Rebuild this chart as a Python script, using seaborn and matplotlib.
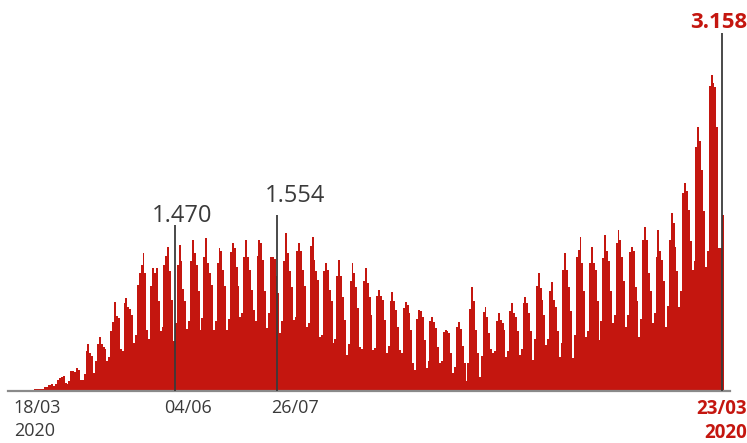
import numpy as np
import pandas as pd
import seaborn as sns
import matplotlib.pyplot as plt

# daily deaths, one row per week (Wed..Tue)
deaths_by_week = [
    [1, 3, 4, 7, 6, 9, 12],
    [13, 20, 16, 22, 21, 25, 42],
    [40, 58, 60, 73, 54, 67, 110],
    [135, 141, 150, 80, 70, 105, 200],
    [204, 188, 230, 206, 115, 113, 170],
    [400, 470, 380, 346, 180, 300, 470],
    [540, 470, 440, 420, 300, 340, 600],
    [690, 890, 750, 730, 420, 400, 880],
    [930, 840, 820, 760, 480, 560, 1060],
    [1180, 1260, 1380, 1180, 610, 520, 1050],
    [1230, 1180, 1230, 900, 600, 640, 1260],
    [1350, 1440, 1200, 910, 500, 680, 1260],
    [1460, 1300, 1020, 900, 620, 700, 1300],
    [1510, 1380, 1260, 1000, 610, 730, 1340],
    [1530, 1280, 1180, 1060, 610, 700, 1280],
    [1430, 1400, 1210, 1050, 610, 720, 1390],
    [1480, 1430, 1240, 1050, 740, 780, 1340],
    [1510, 1340, 1210, 1010, 810, 700, 1350],
    [1510, 1480, 1310, 1000, 630, 780, 1340],
    [1340, 1320, 1150, 980, 580, 700, 1300],
    [1580, 1380, 1200, 1040, 710, 740, 1400],
    [1480, 1400, 1210, 1050, 640, 680, 1450],
    [1540, 1310, 1200, 1110, 540, 560, 1200],
    [1280, 1210, 1010, 900, 480, 520, 1150],
    [1310, 1150, 940, 710, 360, 470, 1100],
    [1280, 1180, 1040, 830, 440, 420, 1100],
    [1230, 1080, 940, 760, 410, 430, 950],
    [1010, 950, 910, 710, 380, 450, 900],
    [990, 900, 810, 640, 410, 380, 830],
    [890, 860, 780, 610, 280, 210, 720],
    [810, 800, 740, 510, 230, 300, 700],
    [740, 690, 630, 440, 280, 300, 590],
    [610, 600, 580, 380, 180, 240, 640],
    [690, 620, 450, 280, 100, 280, 820],
    [1040, 900, 610, 380, 140, 350, 790],
    [840, 740, 580, 420, 380, 400, 700],
    [780, 710, 680, 610, 340, 400, 800],
    [880, 780, 740, 600, 360, 420, 880],
    [940, 880, 780, 600, 310, 520, 1050],
    [1180, 1030, 910, 760, 460, 520, 1000],
    [1090, 910, 840, 600, 340, 480, 1210],
    [1380, 1210, 1040, 800, 330, 560, 1340],
    [1410, 1540, 1280, 1000, 540, 600, 1280],
    [1440, 1280, 1210, 900, 510, 700, 1330],
    [1560, 1400, 1300, 1000, 680, 760, 1480],
    [1610, 1510, 1340, 1100, 640, 760, 1390],
    [1440, 1400, 1040, 900, 540, 720, 1510],
    [1640, 1510, 1180, 1000, 680, 780, 1340],
    [1610, 1400, 1310, 1100, 640, 850, 1510],
    [1780, 1680, 1440, 1200, 840, 1000, 1980],
    [2080, 2000, 1810, 1500, 1210, 1300, 2440],
    [2640, 2500, 2210, 1800, 1240, 1400, 3050],
    [3160, 3080, 3040, 2640, 1430, 1430, 1760],
]
deaths = [v for week in deaths_by_week for v in week]
days = list(range(len(deaths)))

# highlighted days: line position, line height, label position, label text
mark_days = [81.5, 135.5]
mark_heights = [1660, 1760]
mark_text_x = [85.3, 145.0]
mark_text_y = [1690, 1890]
mark_labels = ['1.470', '1.554']
last_label = '3.158'

tick_pos = [-3.2, 76, 132]
tick_labels = ['18/03\n2020', '04/06', '26/07']
end_label = '23/03\n2020'

RED = '#c4160f'
GREY = '#3a3a3a'

sns.set_style('white')
plt.rcParams['font.family'] = ['Open Sans', 'DejaVu Sans']

df = pd.DataFrame({'day': days, 'deaths': deaths})

fig = plt.figure(figsize=(7.47, 4.43), dpi=100)
ax = fig.add_axes([8 / 747, 52 / 443, 722 / 747, 358 / 443])

sns.histplot(data=df, x='day', weights='deaths', discrete=True, color=RED,
             alpha=1, linewidth=0, ax=ax)

ax.set_xlim(-6.3, 373.7)
ax.set_ylim(0, 3580)
sns.despine(ax=ax, left=True)
ax.spines['bottom'].set_color('#8a8a8a')
ax.spines['bottom'].set_linewidth(1.6)
ax.set_xticks([])
ax.set_yticks([])
ax.set_xlabel('')
ax.set_ylabel('')

# marker lines and values
for xp, h in zip(mark_days, mark_heights):
    ax.vlines(xp, 0, h, color=GREY, linewidth=1.3, zorder=3)
for tx, ty, lab in zip(mark_text_x, mark_text_y, mark_labels):
    ax.text(tx, ty, lab, ha='center', va='baseline', fontsize=17, color=GREY)
ax.vlines(369.5, 0, 3580, color=GREY, linewidth=1.3, zorder=3, clip_on=False)
ax.text(382.6, 3630, last_label, ha='right', va='baseline', fontsize=16,
        color=RED, fontweight='bold', clip_on=False)

# date labels under the axis
for xp, lab in zip(tick_pos, tick_labels):
    ax.text(xp, -0.022, lab, transform=ax.get_xaxis_transform(), ha='left',
            va='top', fontsize=13, color=GREY, linespacing=1.35)
ax.text(382.6, -0.022, end_label, transform=ax.get_xaxis_transform(),
        ha='right', va='top', fontsize=13.5, color=RED, fontweight='bold',
        linespacing=1.3, clip_on=False)

fig.savefig('out.png', dpi=100)
